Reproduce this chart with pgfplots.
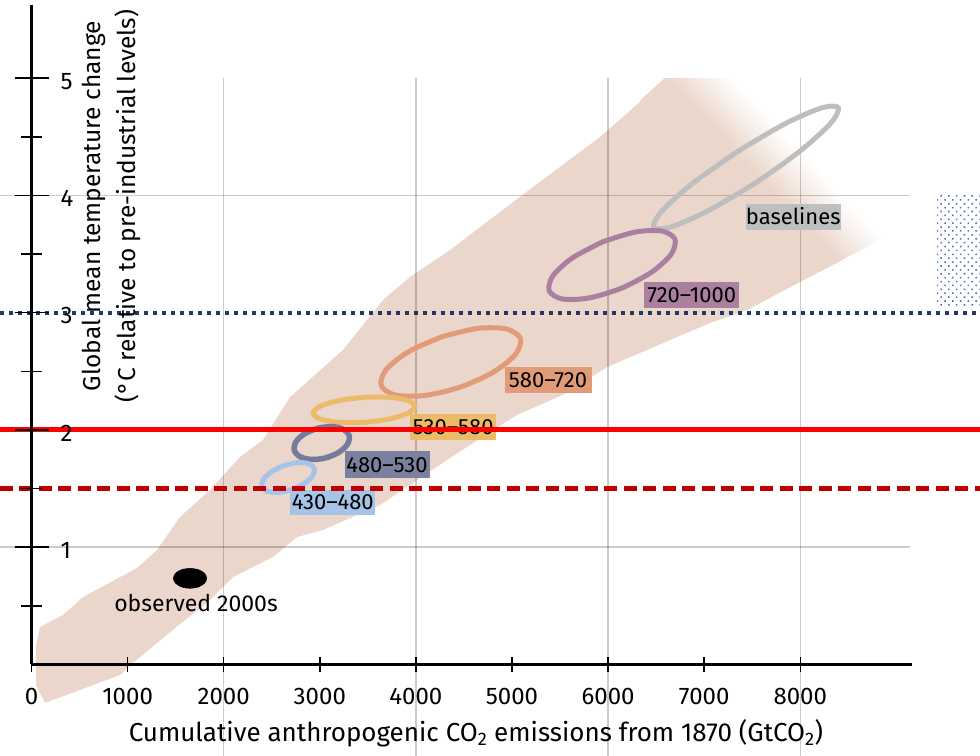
\documentclass[border=0pt]{standalone}
\usepackage{pgfplots}
\pgfplotsset{compat=1.18}
\usepackage{fontspec}
\setmainfont{Fira Sans}
\usetikzlibrary{patterns.meta}
\definecolor{plume}{HTML}{EBD6CB}
\definecolor{cBase}{HTML}{BEBEBE}
\definecolor{cBaseBox}{HTML}{BEC0C0}
\definecolor{cPurple}{HTML}{AA7FA0}
\definecolor{cOrange}{HTML}{E29B78}
\definecolor{cYellow}{HTML}{ECBB6A}
\definecolor{cSlate}{HTML}{747B9C}
\definecolor{cSlateBox}{HTML}{7B809F}
\definecolor{cBlue}{HTML}{A6C4E8}
\definecolor{cDarkRed}{HTML}{C00000}
\definecolor{cNavy}{HTML}{1F3864}
\definecolor{cStip}{HTML}{4472C4}
\newcommand{\tickfont}{\fontsize{24}{28}\selectfont}
\newcommand{\lblfont}{\fontsize{22}{26}\selectfont}
\newcommand{\axfont}{\fontsize{26}{35}\selectfont}
\newcommand{\yaxfont}{\fontsize{24.5}{35}\selectfont}
\begin{document}
\begin{tikzpicture}
\begin{axis}[
  x=0.096098pt, y=117.25pt,
  xmin=0, xmax=9162, ymin=0, ymax=5.625,
  clip=false, axis on top,
  axis lines*=left,
  axis line style={line width=3pt, black},
  xtick={0,1000,2000,3000,4000,5000,6000,7000,8000},
  xticklabels={0,1000,2000,3000,4000,5000,6000,7000,8000},
  ytick={1,2,3,4,5}, yticklabels={1,2,3,4,5},
  minor ytick={0.5,1.5,2.5,3.5,4.5},
  tick align=center,
  major tick length=34pt, minor tick length=21pt,
  tick style={black, line width=1.5pt},
  xtick style={/pgfplots/major tick length=15pt},
  xticklabel style={font=\tickfont, anchor=north, inner sep=0pt, yshift=-7pt},
  yticklabel style={font=\tickfont, anchor=west, inner sep=0pt, xshift=46pt, yshift=-3pt},
  xlabel={Cumulative anthropogenic CO\textsubscript{2} emissions from 1870 (GtCO\textsubscript{2})},
  xlabel style={font=\axfont, at={(axis description cs:0.5048,0)}, anchor=base, yshift=-77pt},
  ylabel={Global mean temperature change\\(°C relative to pre-industrial levels)},
  ylabel style={font=\yaxfont, align=center, at={(axis description cs:0.0909,0.695)}, anchor=center},
]
% plume
\addplot[fill=plume, draw=none] coordinates {
 (140,-0.328) (921,-0.090) (1056,0.013) (1493,0.311) (1826,0.525) (2097,0.746)
 (2513,0.917) (2763,1.087) (3033,1.147) (3626,1.360) (4324,1.744) (4802,2.000)
 (5052,2.128) (5572,2.316) (5989,2.537) (7060,2.913) (7445,3.023) (8392,3.433)
 (6613,5.002)
 (5916,4.499) (5135,4.021) (4355,3.535) (3939,3.305) (3658,3.109) (3241,2.682)
 (2690,2.281) (2409,1.915) (2170,1.770) (1857,1.488) (1545,1.258) (1306,0.977)
 (1098,0.823) (536,0.576) (328,0.422) (88,0.320) (47,0.166) (47,-0.175)};
% fading end of the plume (nested layers)
\addplot[fill=plume, draw=none, fill opacity=0.667] coordinates {(6332,4.8085)(6592,5.002)(6682,5.002)(8438,3.453)(8205,3.351)};
\addplot[fill=plume, draw=none, fill opacity=0.400] coordinates {(6332,4.8085)(6592,5.002)(6750,5.002)(8484,3.472)(8205,3.351)};
\addplot[fill=plume, draw=none, fill opacity=0.286] coordinates {(6332,4.8085)(6592,5.002)(6819,5.002)(8529,3.492)(8205,3.351)};
\addplot[fill=plume, draw=none, fill opacity=0.222] coordinates {(6332,4.8085)(6592,5.002)(6888,5.002)(8575,3.511)(8205,3.351)};
\addplot[fill=plume, draw=none, fill opacity=0.182] coordinates {(6332,4.8085)(6592,5.002)(6956,5.002)(8621,3.531)(8205,3.351)};
\addplot[fill=plume, draw=none, fill opacity=0.154] coordinates {(6332,4.8085)(6592,5.002)(7025,5.002)(8667,3.551)(8205,3.351)};
\addplot[fill=plume, draw=none, fill opacity=0.133] coordinates {(6332,4.8085)(6592,5.002)(7094,5.002)(8713,3.570)(8205,3.351)};
\addplot[fill=plume, draw=none, fill opacity=0.118] coordinates {(6332,4.8085)(6592,5.002)(7162,5.002)(8758,3.590)(8205,3.351)};
\addplot[fill=plume, draw=none, fill opacity=0.105] coordinates {(6332,4.8085)(6592,5.002)(7231,5.002)(8804,3.610)(8205,3.351)};
\addplot[fill=plume, draw=none, fill opacity=0.050] coordinates {(6332,4.8085)(6592,5.002)(7300,5.002)(8850,3.629)(8205,3.351)};
% grid
\addplot[draw=black, draw opacity=0.2, line width=1.5pt] coordinates {(2000,5)(2000,-0.78)};
\addplot[draw=black, draw opacity=0.2, line width=1.5pt] coordinates {(4000,5)(4000,-0.78)};
\addplot[draw=black, draw opacity=0.2, line width=1.5pt] coordinates {(6000,5)(6000,-0.78)};
\addplot[draw=black, draw opacity=0.2, line width=1.5pt] coordinates {(8000,5)(8000,-0.78)};
\addplot[draw=black, draw opacity=0.2, line width=1.5pt] coordinates {(-328,1)(9142,1)};
\addplot[draw=black, draw opacity=0.2, line width=1.5pt] coordinates {(-328,4)(9142,4)};
% scenario ellipses
\addplot[smooth, draw=cBase, line width=5pt] coordinates {
 (7333,4.3676)(6867,4.0948)(6553,3.8607)(6475,3.7278)(6655,3.7319)(7043,3.8717)
 (7537,4.1100)(8003,4.3828)(8317,4.6169)(8395,4.7498)(8216,4.7457)(7827,4.6059)(7333,4.3676)};
\addplot[smooth, draw=cPurple, line width=5pt] coordinates {
 (5942,3.6043)(5628,3.4673)(5425,3.3144)(5387,3.1862)(5524,3.1172)(5800,3.1260)
 (6140,3.2101)(6454,3.3471)(6657,3.5000)(6695,3.6282)(6558,3.6972)(6282,3.6884)(5942,3.6043)};
\addplot[smooth, draw=cOrange, line width=5pt] coordinates {
 (4275,2.7967)(3924,2.6683)(3691,2.5161)(3638,2.3811)(3779,2.2993)(4077,2.2928)
 (4452,2.3633)(4802,2.4917)(5035,2.6439)(5088,2.7789)(4947,2.8607)(4649,2.8672)(4275,2.7967)};
\addplot[smooth, draw=cYellow, line width=5pt] coordinates {
 (3451,2.2791)(3188,2.2496)(2997,2.1997)(2931,2.1423)(3006,2.0932)(3203,2.0654)
 (3469,2.0663)(3733,2.0958)(3923,2.1457)(3990,2.2031)(3914,2.2522)(3717,2.2800)(3451,2.2791)};
\addplot[smooth, draw=cSlate, line width=5.5pt] coordinates {
 (2980,2.0162)(2842,1.9686)(2752,1.8998)(2734,1.8280)(2793,1.7727)(2912,1.7485)
 (3060,1.7620)(3198,1.8096)(3288,1.8784)(3306,1.9502)(3248,2.0055)(3128,2.0297)(2980,2.0162)};
\addplot[smooth, draw=cBlue, line width=5pt] coordinates {
 (2626,1.6963)(2496,1.6437)(2412,1.5781)(2397,1.5169)(2455,1.4766)(2571,1.4680)
 (2712,1.4935)(2843,1.5461)(2926,1.6117)(2941,1.6729)(2883,1.7132)(2768,1.7218)(2626,1.6963)};
% observed 2000s
\addplot[smooth, fill=black, draw=black, line width=0.5pt] coordinates {
 (1649,0.8205)(1562,0.8091)(1499,0.7779)(1476,0.7352)(1499,0.6925)(1562,0.6613)
 (1649,0.6499)(1736,0.6613)(1800,0.6925)(1823,0.7352)(1800,0.7779)(1736,0.8091)(1649,0.8205)};
% labels
\node[fill=cBaseBox, anchor=north west, minimum width=94pt, minimum height=26pt, inner sep=0pt, font=\lblfont] at (axis cs:7432,3.933) {baselines};
\node[fill=cPurple, anchor=north west, minimum width=95pt, minimum height=26pt, inner sep=0pt, font=\lblfont] at (axis cs:6374,3.265) {720–1000};
\node[fill=cOrange, anchor=north west, minimum width=87pt, minimum height=26pt, inner sep=0pt, font=\lblfont] at (axis cs:4920,2.540) {580–720};
\node[fill=cYellow, anchor=north west, minimum width=86pt, minimum height=26pt, inner sep=0pt, font=\lblfont] at (axis cs:3939,2.134) {530–580};
\node[fill=cSlateBox, anchor=north west, minimum width=85pt, minimum height=27pt, inner sep=0pt, font=\lblfont] at (axis cs:3255,1.821) {480–530};
\node[fill=cBlue, anchor=north west, minimum width=85pt, minimum height=25pt, inner sep=0pt, font=\lblfont] at (axis cs:2690,1.490) {430–480};
\node[font=\fontsize{23}{27}\selectfont, inner sep=0pt] at (axis cs:1712,0.525) {observed 2000s};
% reference levels
\addplot[draw=cNavy, line width=4pt, dash pattern=on 4pt off 5pt] coordinates {(-328,3)(9870,3)};
\addplot[draw=cDarkRed, line width=5pt, dash pattern=on 13pt off 6.5pt] coordinates {(-328,1.5)(9870,1.5)};
\addplot[draw=red, line width=5pt] coordinates {(-328,2)(9870,2)};
\addplot[draw=none, pattern={Dots[distance=5.5pt, radius=1.1pt, angle=45]}, pattern color=cStip] coordinates {(9423,3.05)(9870,3.05)(9870,4.02)(9423,4.02)};
\coordinate (BBsw) at (axis cs:-328,-0.7804);
\coordinate (BBne) at (axis cs:9870,5.6674);
\end{axis}
\pgfresetboundingbox
\useasboundingbox (BBsw) rectangle (BBne);
\end{tikzpicture}
\end{document}
